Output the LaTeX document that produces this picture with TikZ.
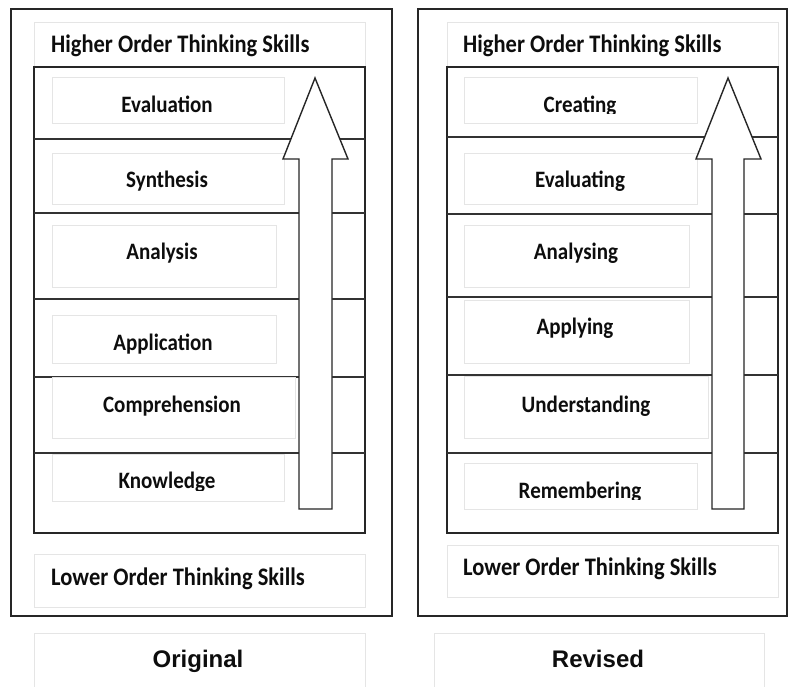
\documentclass[tikz,border=0pt]{standalone}
\usepackage{fontspec}
\usepackage{graphicx}
\setmainfont{Carlito}
\newfontfamily\arialfont{Liberation Sans}
\newcommand{\tallt}[1]{\scalebox{1}[1.12]{#1}}
\begin{document}
\begin{tikzpicture}[x=1pt,y=-1pt,
  frame/.style={draw=black!85, line width=1.4pt},
  lbox/.style={draw=black!10, line width=1pt},
  level/.style={draw=black!80, line width=1.4pt},
  uparrow/.style={draw=black!85, fill=white, line width=1.4pt, line join=miter},
  lbl/.style={font=\bfseries\fontsize{21}{25}\selectfont, text=black!95, inner sep=0pt, anchor=base},
  hlbl/.style={font=\bfseries\fontsize{22.5}{26}\selectfont, text=black!95, inner sep=0pt, anchor=base west},
  title/.style={font=\arialfont\bfseries\fontsize{24}{28}\selectfont, text=black!95, inner sep=0pt, anchor=base}]
\useasboundingbox (0,0) rectangle (788,687);

% ---------------- Left panel: Original ----------------
\draw[frame] (11,9) rectangle (392,616);
\draw[lbox] (34,23) rectangle (365,67);
\node[hlbl] (lhigh) at (51,53) {\tallt{Higher Order Thinking Skills}};
\draw[frame] (34,67) rectangle (365,533);
\foreach \yy in {139,213,299,377,453} \draw[level] (34,\yy) -- (365,\yy);
% label boxes
\draw[lbox] (52,78) rectangle (284,124);
\draw[lbox] (52,154) rectangle (284,205);
\draw[lbox] (52,226) rectangle (276,288);
\draw[lbox] (52,316) rectangle (276,364);
\draw[lbox] (52,378) rectangle (295,438);
\draw[lbox] (52,454) rectangle (284,501);
\node[lbl] (leval) at (167,113) {\tallt{Evaluation}};
\node[lbl] (lsyn) at (167,188) {\tallt{Synthesis}};
\node[lbl] (lana) at (162,260) {\tallt{Analysis}};
\node[lbl] (lapp) at (163,351) {\tallt{Application}};
\node[lbl] (lcomp) at (172,413) {\tallt{Comprehension}};
\begin{scope}
  \clip (52,454) rectangle (284,490);
  \node[lbl] (lknow) at (167,488) {\tallt{Knowledge}};
\end{scope}
% arrow
\draw[uparrow] (299,509) -- (299,159) -- (283,159) -- (315,78) -- (348,159) -- (332,159) -- (332,509) -- cycle;
\draw[lbox] (34,554) rectangle (365,607);
\node[hlbl] (llow) at (51,585) {\tallt{Lower Order Thinking Skills}};
\draw[lbox] (34,633) rectangle (365,700);
\node[title] (orig) at (198,667) {Original};

% ---------------- Right panel: Revised ----------------
\draw[frame] (418,9) rectangle (787,616);
\draw[lbox] (447,23) rectangle (778,67);
\node[hlbl] (rhigh) at (463,53) {\tallt{Higher Order Thinking Skills}};
\draw[frame] (447,67) rectangle (778,533);
\foreach \yy in {137,214,297,375,453} \draw[level] (447,\yy) -- (778,\yy);
\draw[lbox] (464,78) rectangle (697,124);
\draw[lbox] (464,154) rectangle (697,205);
\draw[lbox] (464,226) rectangle (689,288);
\draw[lbox] (464,301) rectangle (689,364);
\draw[lbox] (464,377) rectangle (708,438);
\draw[lbox] (464,463) rectangle (697,509);
\begin{scope}
  \clip (464,78) rectangle (697,114);
  \node[lbl] (rcre) at (580,113) {\tallt{Creating}};
\end{scope}
\node[lbl] (reval) at (580,188) {\tallt{Evaluating}};
\node[lbl] (rana) at (576,260) {\tallt{Analysing}};
\node[lbl] (rapp) at (575,335) {\tallt{Applying}};
\node[lbl] (rund) at (586,413) {\tallt{Understanding}};
\begin{scope}
  \clip (464,463) rectangle (697,499);
  \node[lbl] (rrem) at (580,498) {\tallt{Remembering}};
\end{scope}
\draw[uparrow] (712,509) -- (712,159) -- (696,159) -- (728,78) -- (761,159) -- (744,159) -- (744,509) -- cycle;
\draw[lbox] (447,545) rectangle (778,597);
\node[hlbl] (rlow) at (463,575) {\tallt{Lower Order Thinking Skills}};
\draw[lbox] (434,633) rectangle (764,700);
\node[title] (rev) at (598,667) {Revised};
\end{tikzpicture}
\end{document}
